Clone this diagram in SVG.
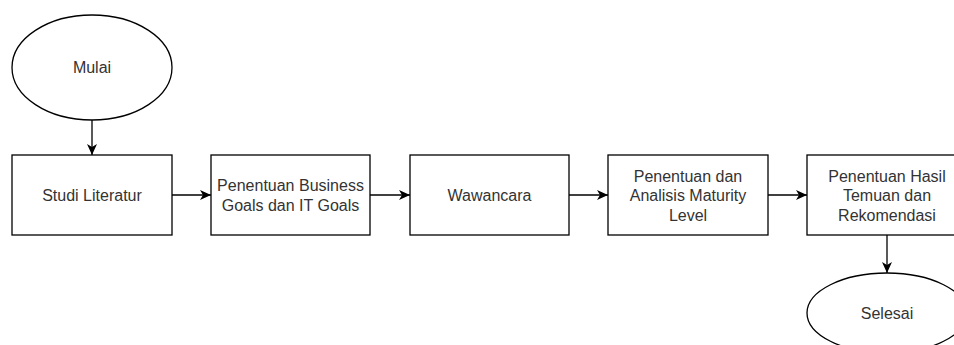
<svg xmlns="http://www.w3.org/2000/svg" width="954" height="345" viewBox="0 0 954 345">
<defs>
<style>
.shape{fill:#ffffff;stroke:#000000;stroke-width:1.3}
.lbl{font-family:"Liberation Sans",Arial,sans-serif;font-size:16px;fill:#333333;text-anchor:middle}
.edge{fill:none;stroke:#000000;stroke-width:1.3}
</style>
<marker id="arr" markerUnits="userSpaceOnUse" markerWidth="12" markerHeight="12" viewBox="0 0 12 12" refX="11" refY="6" orient="auto">
<path d="M0,1 L11,6 L0,11 L3,6 z" fill="#000000"/>
</marker>
</defs>
<rect width="954" height="345" fill="#ffffff"/>
<g id="connectors">
<line class="edge" x1="92" y1="120" x2="92" y2="155" marker-end="url(#arr)"/>
<line class="edge" x1="172" y1="195" x2="211" y2="195" marker-end="url(#arr)"/>
<line class="edge" x1="370" y1="195" x2="410" y2="195" marker-end="url(#arr)"/>
<line class="edge" x1="569" y1="195" x2="608" y2="195" marker-end="url(#arr)"/>
<line class="edge" x1="768" y1="195" x2="807" y2="195" marker-end="url(#arr)"/>
<line class="edge" x1="887" y1="235" x2="887" y2="273" marker-end="url(#arr)"/>
</g>
<g id="mulai">
<ellipse class="shape" cx="92" cy="67.5" rx="80" ry="52.5"/>
<text class="lbl" x="92" y="73">Mulai</text>
</g>
<g id="studi-literatur">
<rect class="shape" x="12" y="155" width="160" height="80"/>
<text class="lbl" x="92" y="201">Studi Literatur</text>
</g>
<g id="penentuan-goals">
<rect class="shape" x="211" y="155" width="159" height="80"/>
<text class="lbl" x="290.5" y="191">Penentuan Business</text>
<text class="lbl" x="290.5" y="211">Goals dan IT Goals</text>
</g>
<g id="wawancara">
<rect class="shape" x="410" y="155" width="159" height="80"/>
<text class="lbl" x="489.5" y="201">Wawancara</text>
</g>
<g id="maturity">
<rect class="shape" x="608" y="155" width="160" height="80"/>
<text class="lbl" x="688" y="181.5">Penentuan dan</text>
<text class="lbl" x="688" y="201">Analisis Maturity</text>
<text class="lbl" x="688" y="220.5">Level</text>
</g>
<g id="hasil">
<rect class="shape" x="807" y="155" width="160" height="80"/>
<text class="lbl" x="887" y="181.5">Penentuan Hasil</text>
<text class="lbl" x="887" y="201">Temuan dan</text>
<text class="lbl" x="887" y="220.5">Rekomendasi</text>
</g>
<g id="selesai">
<ellipse class="shape" cx="887" cy="313" rx="80" ry="40"/>
<text class="lbl" x="887" y="319">Selesai</text>
</g>
</svg>
